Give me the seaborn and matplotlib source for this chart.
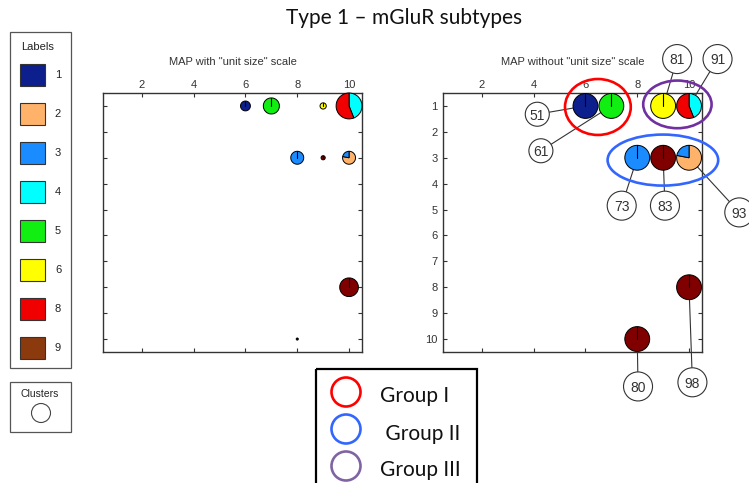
import matplotlib
matplotlib.use("Agg")
import matplotlib.pyplot as plt
from matplotlib.patches import Ellipse, Rectangle, Circle
import pandas as pd
import seaborn as sns

# ---------------------------------------------------------------- data
label_names = ["1", "2", "3", "4", "5", "6", "8", "9"]
swatch_colors = ["#0c1f8c", "#ffb26a", "#1a8cff", "#00ffff",
                 "#11ee11", "#ffff00", "#f00000", "#8b3a0e"]
pie_colors = {"1": "#0c1f8c", "2": "#ffb26a", "3": "#1a8cff", "4": "#00ffff",
              "5": "#11ee11", "6": "#ffff00", "8": "#f00000", "9": "#800000"}

# SOM nodes (column, row) with the label mix found in each one
node_col = [6, 7, 9, 10, 8, 9, 10, 10, 8]
node_row = [1, 1, 1, 1, 3, 3, 3, 8, 10]
node_labels = [["1"], ["5"], ["6"], ["4", "8"], ["3"], ["9"], ["2", "3"], ["9"], ["9"]]
node_shares = [[1.0], [1.0], [1.0], [0.44, 0.56], [1.0], [1.0], [0.78, 0.22], [1.0], [1.0]]
node_unit_size = [0.38, 0.62, 0.24, 1.0, 0.50, 0.16, 0.50, 0.72, 0.08]

# cluster ids attached to nodes on the right-hand map
cluster_ids = ["51", "61", "81", "91", "73", "83", "93", "80", "98"]
cluster_node = [0, 1, 2, 3, 4, 5, 6, 8, 7]

group_names = ["Group I", " Group II", "Group III"]
group_members = [[0, 1], [4, 5, 6], [2, 3]]

x_ticks = [2, 4, 6, 8, 10]
y_ticks = list(range(1, 11))

# ---------------------------------------------------------------- layout
W, H = 749, 483
callout_xy = [(4.14, 1.32), (4.28, 2.73), (9.54, -0.81), (11.10, -0.81),
              (7.40, 4.85), (9.07, 4.85), (11.94, 5.11), (8.03, 11.83), (10.13, 11.67)]
callout_small = [True, True, False, False, False, False, False, False, False]
group_ellipses = [((6.48, 1.04), 2.54, 2.16), ((8.99, 3.09), 4.27, 1.97), ((9.55, 0.94), 2.64, 1.84)]
group_edge = ["#ff0000", "#3366ff", "#7030a0"]
group_legend_edge = ["#ff0000", "#3366ff", "#8064a2"]

sns.set_style("ticks")
plt.rcParams["font.family"] = ["Liberation Sans", "DejaVu Sans"]

fig = plt.figure(figsize=(W / 100, H / 100), dpi=100)
fig.patch.set_facecolor("white")

side = 259
axL = fig.add_axes([103 / W, 1 - (93 + side) / H, side / W, side / H])
axR = fig.add_axes([443 / W, 1 - (93 + side) / H, side / W, side / H])


def draw_pie(ax, i, radius):
    cx, cy = node_col[i], node_row[i]
    cols = [pie_colors[l] for l in node_labels[i]]
    ax.pie(node_shares[i], colors=cols, radius=radius, center=(cx, cy),
           startangle=270, counterclock=True, frame=True,
           wedgeprops=dict(edgecolor="black", linewidth=0.7, zorder=3))
    if len(node_shares[i]) == 1:
        ax.plot([cx, cx], [cy, cy - radius], color="black", lw=0.8, zorder=3.5)


for i in range(len(node_col)):
    draw_pie(axL, i, 0.5 * node_unit_size[i])
    draw_pie(axR, i, 0.48)

# cluster callouts on the right map
calls = pd.DataFrame({"x": [p[0] for p in callout_xy],
                      "y": [p[1] for p in callout_xy],
                      "id": cluster_ids,
                      "s": [299 if sm else 436 for sm in callout_small]})
for k, row in calls.iterrows():
    n = cluster_node[k]
    axR.plot([row.x, node_col[n]], [row.y, node_row[n]], color="#333333",
             lw=0.8, zorder=2, clip_on=False)
sns.scatterplot(data=calls, x="x", y="y", s=calls["s"].values, color="white",
                edgecolor="#333333", linewidth=0.8, ax=axR, zorder=5,
                clip_on=False, legend=False)
for _, row in calls.iterrows():
    axR.text(row.x, row.y + 0.05, row.id, ha="center", va="center", fontsize=10,
             color="#333333", zorder=6, clip_on=False)

for (c, w, h), ec in zip(group_ellipses, group_edge):
    axR.add_patch(Ellipse(c, w, h, fill=False, edgecolor=ec, lw=1.9,
                          zorder=4, clip_on=False))

for ax, title in [(axL, 'MAP with "unit size" scale'),
                  (axR, 'MAP without "unit size" scale')]:
    ax.set_xlim(0.5, 10.5)
    ax.set_ylim(10.5, 0.5)
    ax.set_aspect("equal", adjustable="box")
    ax.set_xticks(x_ticks)
    ax.set_yticks(y_ticks)
    ax.set_xlabel("")
    ax.set_ylabel("")
    ax.tick_params(direction="in", length=3, width=0.8, colors="#333333",
                   labelsize=8, top=True, bottom=True, left=True, right=True,
                   labeltop=True, labelbottom=False, pad=2)
    for sp in ax.spines.values():
        sp.set_visible(True)
        sp.set_color("#333333")
        sp.set_linewidth(1.0)
    ax.set_title(title, fontsize=8, color="#333333", pad=20)
    ax.set_facecolor("white")

axL.tick_params(labelleft=False)
axR.tick_params(labelleft=True, pad=4)
axR.tick_params(axis="x", pad=2)

# ---------------------------------------------------------------- overlay: title and legends
ov = fig.add_axes([0, 0, 1, 1], zorder=10)
ov.set_xlim(0, W)
ov.set_ylim(H, 0)
ov.axis("off")
ov.patch.set_visible(False)

ov.text(404, 18, "Type 1 \u2013 mGluR subtypes", ha="center", va="center",
        fontsize=15, family=["Lato", "DejaVu Sans"], color="#111111")

ov.add_patch(Rectangle((9.5, 31.5), 61, 336.5, fill=False, ec="#555555", lw=0.9))
ov.text(38, 47, "Labels", ha="center", va="center", fontsize=8, color="#222222")
for i, (name, col) in enumerate(zip(label_names, swatch_colors)):
    top = 64 + 39 * i
    ov.add_patch(Rectangle((19.5, top), 25, 22, facecolor=col, ec="#333333", lw=0.8))
    ov.text(58, top + 11, name, ha="center", va="center", fontsize=8, color="#222222")

ov.add_patch(Rectangle((10, 382), 61, 50, fill=False, ec="#555555", lw=0.9))
ov.text(40, 394, "Clusters", ha="center", va="center", fontsize=7.5, color="#222222")
ov.add_patch(Circle((41, 413), 9.5, fill=False, ec="#444444", lw=0.8))

ov.add_patch(Rectangle((316, 369), 161, 200, fill=False, ec="black", lw=1.6, clip_on=False))
for i, (name, ec) in enumerate(zip(group_names, group_legend_edge)):
    cy = 392 + 37 * i
    ov.add_patch(Circle((346, cy), 14.5, fill=False, ec=ec, lw=1.9))
    ov.text(380, cy + 10.5, name, ha="left", va="baseline", fontsize=15,
            family=["Lato", "DejaVu Sans"], color="#111111")

fig.savefig("out.png", dpi=100)
